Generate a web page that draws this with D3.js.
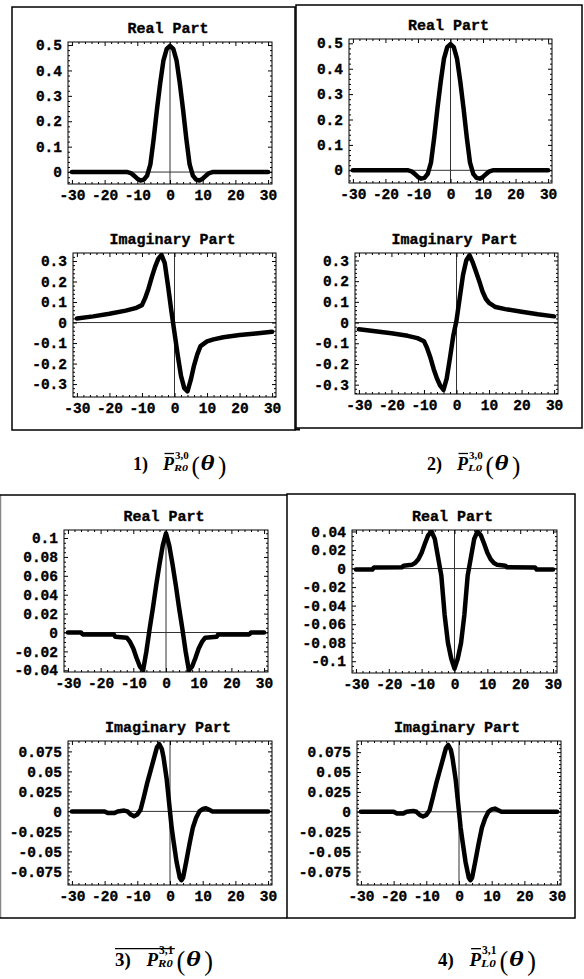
<!DOCTYPE html>
<html><head><meta charset="utf-8">
<script src="https://cdn.jsdelivr.net/npm/d3@7"></script>
<style>
html,body{margin:0;padding:0;background:#fff;}
svg{display:block;}
</style></head><body>
<svg id="c" width="584" height="979"></svg>
<script>
// ---------------- data ----------------
const xTicks = [-30, -20, -10, 0, 10, 20, 30];
const yTicksReal30 = [0, 0.1, 0.2, 0.3, 0.4, 0.5];
const yTicksImag30 = [-0.3, -0.2, -0.1, 0, 0.1, 0.2, 0.3];
const yTicksRealR31 = [-0.04, -0.02, 0, 0.02, 0.04, 0.06, 0.08, 0.1];
const yTicksRealL31 = [-0.1, -0.08, -0.06, -0.04, -0.02, 0, 0.02, 0.04];
const yTicksImag31 = [-0.075, -0.05, -0.025, 0, 0.025, 0.05, 0.075];

// [theta, value]
const realPart30 = [[-30,0],[-20,0],[-13,0],[-12,-0.004],[-11,-0.014],[-10,-0.026],[-9,-0.033],[-8,-0.03],[-7,-0.014],[-6,0.03],[-5,0.13],[-4,0.245],[-3,0.35],[-2,0.44],[-1,0.485],[0,0.497],[1,0.485],[2,0.44],[3,0.35],[4,0.245],[5,0.13],[6,0.03],[7,-0.014],[8,-0.03],[9,-0.033],[10,-0.026],[11,-0.014],[12,-0.004],[13,0],[20,0],[30,0]];
const imagR30 = [[-30,0.020],[-25,0.030],[-20,0.043],[-15,0.058],[-12,0.070],[-10,0.085],[-9,0.12],[-8,0.165],[-7,0.22],[-6,0.27],[-5,0.31],[-4,0.33],[-3,0.29],[-2,0.18],[-1,0.06],[0,-0.05],[1,-0.16],[2,-0.26],[3,-0.32],[4,-0.335],[5,-0.28],[6,-0.21],[7,-0.155],[8,-0.115],[10,-0.092],[12,-0.082],[15,-0.072],[20,-0.061],[25,-0.053],[30,-0.045]];
const imagL30 = [[-30,-0.032],[-25,-0.042],[-20,-0.052],[-15,-0.064],[-12,-0.075],[-10,-0.09],[-9,-0.125],[-8,-0.17],[-7,-0.225],[-6,-0.27],[-5,-0.305],[-4,-0.325],[-3,-0.27],[-2,-0.17],[-1,-0.065],[0,0.01],[1,0.12],[2,0.23],[3,0.30],[4,0.325],[5,0.29],[6,0.245],[7,0.2],[8,0.15],[9,0.115],[10,0.095],[12,0.075],[15,0.065],[20,0.052],[25,0.04],[30,0.03]];
const realR31 = [[-30,0],[-26,0],[-25.5,-0.002],[-16,-0.002],[-15.5,-0.0045],[-12,-0.0055],[-11,-0.01],[-10,-0.017],[-9,-0.027],[-8,-0.036],[-7,-0.04],[-6,-0.02],[-5,0.004],[-4,0.026],[-3,0.05],[-2,0.072],[-1,0.092],[0,0.105],[1,0.092],[2,0.072],[3,0.05],[4,0.026],[5,0.004],[6,-0.02],[7,-0.04],[8,-0.036],[9,-0.027],[10,-0.017],[11,-0.01],[12,-0.0055],[15.5,-0.0045],[16,-0.002],[25.5,-0.002],[26,0],[30,0]];
const realL31 = [[-30,-0.001],[-25,-0.001],[-24.5,0.0012],[-16,0.0015],[-15.5,0.003],[-13,0.004],[-12,0.006],[-11,0.01],[-10,0.017],[-9,0.027],[-8,0.036],[-7,0.04],[-6,0.032],[-5,0.012],[-4,-0.008],[-3,-0.05],[-2,-0.08],[-1,-0.097],[0,-0.108],[1,-0.097],[2,-0.08],[3,-0.05],[4,-0.008],[5,0.012],[6,0.032],[7,0.04],[8,0.036],[9,0.027],[10,0.017],[11,0.01],[12,0.006],[13,0.004],[15.5,0.003],[16,0.0015],[24.5,0.0012],[25,-0.001],[30,-0.001]];
const imag31 = [[-30,0],[-20,0],[-19,-0.002],[-17,-0.002],[-16,0],[-14,0.001],[-13,0],[-12,-0.004],[-11,-0.006],[-10,-0.004],[-9,0.002],[-8,0.018],[-7,0.035],[-6,0.05],[-5,0.065],[-4,0.08],[-3.3,0.084],[-2.5,0.078],[-2,0.068],[-1,0.04],[0,0],[0.5,-0.02],[1,-0.035],[2,-0.063],[3,-0.083],[3.5,-0.086],[4,-0.083],[5,-0.062],[6,-0.04],[7,-0.02],[8,-0.008],[9,0],[10,0.003],[11,0.004],[12,0.002],[13,0],[20,0],[30,0]];

const titles = ["Real Part", "Imaginary Part"];
const captionNums = ["1)", "2)", "3)", "4)"];
const captionSups = ["3,0", "3,0", "3,1", "3,1"];
const captionSubs = ["R0", "L0", "R0", "L0"];

// ---------------- layout ----------------
const svg = d3.select("#c");
const MONO = '"Liberation Mono", "DejaVu Sans Mono", monospace';
const SERIF = '"Liberation Serif", "Times New Roman", serif';

// panel borders
const border = svg.append("g").attr("fill", "none").attr("stroke", "#000").attr("stroke-width", 1.5);
border.append("rect").attr("x", 12).attr("y", 7).attr("width", 283).attr("height", 423);
border.append("rect").attr("x", 296).attr("y", 5).attr("width", 286).attr("height", 423);
border.append("line").attr("x1", 295).attr("x2", 300).attr("y1", 429.5).attr("y2", 429.5).attr("stroke-width", 2);
border.append("line").attr("x1", 0.5).attr("x2", 0.5).attr("y1", 495).attr("y2", 918).attr("stroke", "#888");
border.append("line").attr("x1", 0).attr("x2", 287).attr("y1", 495).attr("y2", 495);
border.append("line").attr("x1", 0).attr("x2", 287).attr("y1", 918).attr("y2", 918);
border.append("rect").attr("x", 287).attr("y", 494).attr("width", 288).attr("height", 424);

const panels = [
  {data: realPart30, L: 68,  T: 42,  R: 272, B: 184, y0: -0.047, y1: 0.512, ticks: yTicksReal30, minor: 0.02, title: titles[0]},
  {data: imagR30,    L: 73,  T: 253, R: 276, B: 397, y0: -0.363, y1: 0.339, ticks: yTicksImag30, minor: 0.02, title: titles[1]},
  {data: realPart30, L: 349, T: 39,  R: 552, B: 183, y0: -0.050, y1: 0.517, ticks: yTicksReal30, minor: 0.02, title: titles[0]},
  {data: imagL30,    L: 355, T: 253, R: 558, B: 394, y0: -0.345, y1: 0.336, ticks: yTicksImag30, minor: 0.02, title: titles[1]},
  {data: realR31,    L: 64,  T: 530, R: 268, B: 672, y0: -0.0418, y1: 0.1085, ticks: yTicksRealR31, minor: 0.005, title: titles[0]},
  {data: imag31,     L: 68,  T: 741, R: 272, B: 885, y0: -0.092, y1: 0.088, ticks: yTicksImag31, minor: 0.005, title: titles[1]},
  {data: realL31,    L: 352, T: 530, R: 557, B: 673, y0: -0.1127, y1: 0.0416, ticks: yTicksRealL31, minor: 0.005, title: titles[0]},
  {data: imag31,     L: 357, T: 741, R: 561, B: 885, y0: -0.092, y1: 0.089, ticks: yTicksImag31, minor: 0.005, title: titles[1]}
];

const fmt = d => (d === 0 ? "0" : String(d));

panels.forEach((p, i) => {
  const x = d3.scaleLinear().domain([-31.2, 31.2]).range([p.L, p.R]);
  const y = d3.scaleLinear().domain([p.y0, p.y1]).range([p.B, p.T]);
  const g = svg.append("g");
  const clipId = "clip" + i;
  g.append("clipPath").attr("id", clipId).append("rect")
    .attr("x", p.L).attr("y", p.T).attr("width", p.R - p.L).attr("height", p.B - p.T);

  const minorX = d3.range(-30, 31, 2).filter(v => v % 10 !== 0);
  const nMin = Math.ceil(p.y0 / p.minor), nMax = Math.floor(p.y1 / p.minor);
  const minorY = d3.range(nMin, nMax + 1).map(k => +(k * p.minor).toFixed(4))
    .filter(v => !p.ticks.some(t => Math.abs(t - v) < 1e-6));

  // zero axes
  g.append("line").attr("x1", x(0)).attr("x2", x(0)).attr("y1", p.T).attr("y2", p.B)
    .attr("stroke", "#333").attr("stroke-width", 1);
  g.append("line").attr("x1", p.L).attr("x2", p.R).attr("y1", y(0)).attr("y2", y(0))
    .attr("stroke", "#333").attr("stroke-width", 1);

  // curve
  g.append("path").datum(p.data)
    .attr("clip-path", `url(#${clipId})`)
    .attr("fill", "none").attr("stroke", "#000").attr("stroke-width", 4.5)
    .attr("stroke-linejoin", "round").attr("stroke-linecap", "round")
    .attr("d", d3.line().x(d => x(d[0])).y(d => y(d[1])));

  // axes
  const styleAxis = sel => {
    sel.select(".domain").remove();
    sel.selectAll("line").attr("stroke", "#000");
    sel.selectAll("text").attr("font-family", MONO).attr("font-weight", "bold")
      .attr("font-size", 14.5).attr("fill", "#000")
      .attr("stroke", "#000").attr("stroke-width", 0.35);
  };
  g.append("g").attr("transform", `translate(0,${p.B})`)
    .call(d3.axisBottom(x).tickValues(xTicks).tickFormat(fmt).tickSizeInner(-4).tickSizeOuter(0).tickPadding(6))
    .call(styleAxis);
  g.append("g").attr("transform", `translate(0,${p.B})`)
    .call(d3.axisBottom(x).tickValues(minorX).tickFormat("").tickSizeInner(-2).tickSizeOuter(0))
    .call(styleAxis);
  g.append("g").attr("transform", `translate(0,${p.T})`)
    .call(d3.axisTop(x).tickValues(xTicks).tickFormat("").tickSizeInner(-4).tickSizeOuter(0))
    .call(styleAxis);
  g.append("g").attr("transform", `translate(0,${p.T})`)
    .call(d3.axisTop(x).tickValues(minorX).tickFormat("").tickSizeInner(-2).tickSizeOuter(0))
    .call(styleAxis);
  g.append("g").attr("transform", `translate(${p.L},0)`)
    .call(d3.axisLeft(y).tickValues(p.ticks).tickFormat(fmt).tickSizeInner(-4).tickSizeOuter(0).tickPadding(6))
    .call(styleAxis);
  g.append("g").attr("transform", `translate(${p.L},0)`)
    .call(d3.axisLeft(y).tickValues(minorY).tickFormat("").tickSizeInner(-2).tickSizeOuter(0))
    .call(styleAxis);
  g.append("g").attr("transform", `translate(${p.R},0)`)
    .call(d3.axisRight(y).tickValues(p.ticks).tickFormat("").tickSizeInner(-4).tickSizeOuter(0))
    .call(styleAxis);
  g.append("g").attr("transform", `translate(${p.R},0)`)
    .call(d3.axisRight(y).tickValues(minorY).tickFormat("").tickSizeInner(-2).tickSizeOuter(0))
    .call(styleAxis);

  // frame
  g.append("rect").attr("x", p.L).attr("y", p.T).attr("width", p.R - p.L).attr("height", p.B - p.T)
    .attr("fill", "none").attr("stroke", "#000").attr("stroke-width", 1);

  // title
  g.append("text").attr("x", (p.L + p.R) / 2 - 2).attr("y", p.T - 9)
    .attr("text-anchor", "middle").attr("font-family", MONO).attr("font-weight", "bold")
    .attr("font-size", 15).attr("stroke", "#000").attr("stroke-width", 0.35).text(p.title);
});

// ---------------- captions ----------------
function caption(i, x0, base, k, overAll) {
  const g = svg.append("g").attr("font-family", SERIF).attr("font-weight", "bold").attr("fill", "#000");
  g.append("text").attr("x", x0).attr("y", base).attr("font-size", 18 * k).text(captionNums[i]);
  const px = x0 + 30 * k;
  g.append("text").attr("x", px).attr("y", base).attr("font-size", 18 * k).attr("font-style", "italic").text("P");
  g.append("text").attr("x", px + 12 * k).attr("y", base - 11 * k).attr("font-size", 11 * k).text(captionSups[i]);
  g.append("text").attr("x", px + 11 * k).attr("y", base + 1).attr("font-size", 9 * k)
    .attr("font-style", "italic").attr("textLength", 14 * k).attr("lengthAdjust", "spacingAndGlyphs")
    .text(captionSubs[i]);
  g.append("text").attr("x", px + 28.5 * k).attr("y", base + 4 * k).attr("font-size", 25 * k).attr("font-weight", "normal").text("(");
  g.append("text").attr("x", px + 37.5 * k).attr("y", base).attr("font-size", 20 * k).attr("font-style", "italic")
    .attr("textLength", 14 * k).attr("lengthAdjust", "spacingAndGlyphs").text("θ");
  g.append("text").attr("x", px + 55 * k).attr("y", base + 4 * k).attr("font-size", 25 * k).attr("font-weight", "normal").text(")");
  g.append("line").attr("x1", overAll ? x0 : px + 1.5 * k).attr("x2", overAll ? px + 27 * k : px + 11 * k)
    .attr("y1", base - 16.5 * k).attr("y2", base - 16.5 * k).attr("stroke", "#000").attr("stroke-width", 1.3);
}
caption(0, 133, 470, 1, false);
caption(1, 427, 470, 1, false);
caption(2, 115, 966, 1.05, true);
caption(3, 438, 966, 1.05, false);
</script>
</body></html>
